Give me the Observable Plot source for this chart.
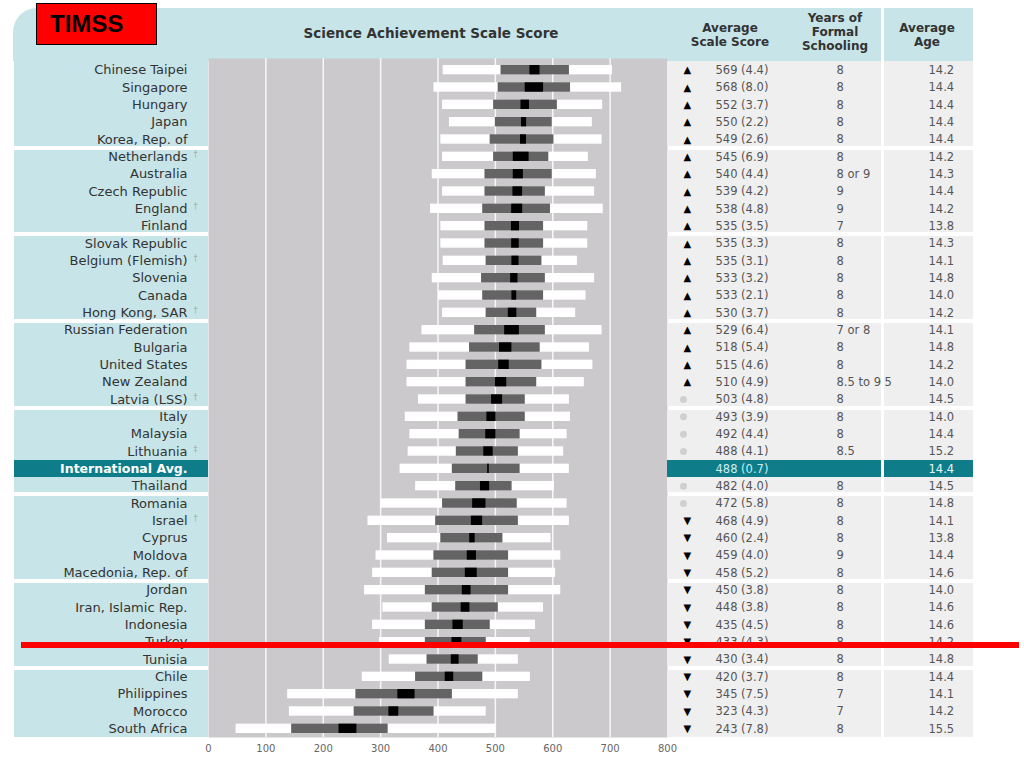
<!DOCTYPE html>
<html><head><meta charset="utf-8">
<script src="https://cdn.jsdelivr.net/npm/d3@7"></script>
<script src="https://cdn.jsdelivr.net/npm/@observablehq/plot@0.6"></script>
<style>
body{margin:0;background:#fff;width:1024px;height:768px;overflow:hidden;font-family:"DejaVu Sans",sans-serif;}
#wrap{position:relative;width:1024px;height:768px;}
.abs{position:absolute;}
.hdr{position:absolute;text-align:center;font-weight:bold;color:#333;font-size:12px;line-height:14px;}
</style></head><body><div id="wrap"></div>
<script>
const countries = ["Chinese Taipei","Singapore","Hungary","Japan","Korea, Rep. of",
 "Netherlands","Australia","Czech Republic","England","Finland",
 "Slovak Republic","Belgium (Flemish)","Slovenia","Canada","Hong Kong, SAR",
 "Russian Federation","Bulgaria","United States","New Zealand","Latvia (LSS)",
 "Italy","Malaysia","Lithuania","International Avg.","Thailand",
 "Romania","Israel","Cyprus","Moldova","Macedonia, Rep. of",
 "Jordan","Iran, Islamic Rep.","Indonesia","Turkey","Tunisia",
 "Chile","Philippines","Morocco","South Africa"];
const footnotes = ["","","","","",
 "†","","","†","",
 "","†","","","†",
 "","","","","†",
 "","","‡","","",
 "","†","","","",
 "","","","","",
 "","","",""];
const means = [569,568,552,550,549, 545,540,539,538,535, 535,535,533,533,530, 529,518,515,510,503, 493,492,488,488,482, 472,468,460,459,458, 450,448,435,433,430, 420,345,323,243];
const ses = [4.4,8.0,3.7,2.2,2.6, 6.9,4.4,4.2,4.8,3.5, 3.3,3.1,3.2,2.1,3.7, 6.4,5.4,4.6,4.9,4.8, 3.9,4.4,4.1,0.7,4.0, 5.8,4.9,2.4,4.0,5.2, 3.8,3.8,4.5,4.3,3.4, 3.7,7.5,4.3,7.8];
const p5  = [409,393,408,420,405, 408,390,408,387,405, 405,409,390,401,408, 372,351,346,346,366, 343,351,348,334,361, 300,278,312,292,286, 272,304,286,298,315, 268,138,141,48];
const p25 = [510,505,497,500,491, 497,482,482,478,482, 482,484,476,478,484, 464,455,449,449,449, 435,437,432,425,431, 408,396,405,393,390, 378,390,378,378,381, 361,257,254,145];
const p75 = [629,631,608,599,602, 593,599,587,596,584, 584,581,587,584,572, 587,578,581,572,552, 552,543,540,543,529, 538,540,513,523,523, 523,505,491,484,470, 478,425,393,313];
const p95 = [704,720,687,669,686, 662,676,673,688,661, 661,643,673,658,640, 686,664,670,655,629, 631,625,619,629,603, 625,629,597,614,605, 614,584,570,561,540, 561,540,484,501];
const status = ["up","up","up","up","up", "up","up","up","up","up", "up","up","up","up","up", "up","up","up","up","same", "same","same","same","","same", "same","down","down","down","down", "down","down","down","down","down", "down","down","down","down"];
const years = ["8","8","8","8","8", "8","8 or 9","9","9","7", "8","8","8","8","8", "7 or 8","8","8","8.5 to 9.5","8", "8","8","8.5","","8", "8","8","8","9","8", "8","8","8","8","8", "8","7","7","8"];
const ages = [14.2,14.4,14.4,14.4,14.4, 14.2,14.3,14.4,14.2,13.8, 14.3,14.1,14.8,14.0,14.2, 14.1,14.8,14.2,14.0,14.5, 14.0,14.4,15.2,14.4,14.5, 14.8,14.1,13.8,14.4,14.6, 14.0,14.6,14.6,14.2,14.8, 14.4,14.1,14.2,15.5];
const groupSizes = [5,5,5,5,5,5,5,4];
const intlName = "International Avg.";

const starts = new Set(), ends = new Set();
let acc = 0;
groupSizes.forEach(s => { starts.add(acc); ends.add(acc + s - 1); acc += s; });
const n = countries.length;
const rows = countries.map((name, i) => ({
  name, foot: footnotes[i], mean: means[i], se: ses[i],
  p5: p5[i], p25: p25[i], p75: p75[i], p95: p95[i],
  status: status[i], years: years[i], age: ages[i],
  intl: name === intlName,
  sepTop: starts.has(i) && i > 0,
  sepBot: ends.has(i) && i < n - 1
}));

const BLUE = "#c7e5e8", TEAL = "#0f7d89", GRAY = "#ccc9cd", TABLE = "#efefef";
const H = 760, MT = 58, MB = 23;
const yScale = {type: "band", domain: countries, padding: 0, round: false, insetTop: 3, axis: null};
const baseStyle = {background: "transparent", overflow: "visible", fontFamily: "DejaVu Sans, sans-serif"};

function bgMarks(fillFn) {
  const o = {x1: 0, x2: 1, y: "name", fill: fillFn, shapeRendering: "crispEdges"};
  return [
    Plot.barX(rows.filter(d => !d.sepTop && !d.sepBot), o),
    Plot.barX(rows.filter(d => d.sepTop), {...o, insetTop: 2}),
    Plot.barX(rows.filter(d => d.sepBot), {...o, insetBottom: 2})
  ];
}

const wrap = document.getElementById("wrap");
function place(el, left, top, z) {
  const d = document.createElement("div");
  d.className = "abs"; d.style.left = left + "px"; d.style.top = top + "px";
  if (z) d.style.zIndex = z;
  d.appendChild(el); wrap.appendChild(d); return d;
}
function box(left, top, w, h, css) {
  const d = document.createElement("div");
  d.className = "abs";
  Object.assign(d.style, {left: left + "px", top: top + "px", width: w + "px", height: h + "px"}, css || {});
  wrap.appendChild(d); return d;
}

// header background
box(13, 8, 960, 53, {background: BLUE, borderTopLeftRadius: "24px"});

// Labels column
const plotA = Plot.plot({
  width: 194, height: H, marginLeft: 0, marginRight: 0, marginTop: MT, marginBottom: MB,
  style: {...baseStyle},
  x: {domain: [0, 1], axis: null},
  y: yScale,
  color: {type: "identity"},
  marks: [
    ...bgMarks(d => d.intl ? TEAL : BLUE),
    Plot.text(rows.filter(d => !d.intl), {y: "name", text: "name", frameAnchor: "right", dx: -21, textAnchor: "end", fill: "#333", fontSize: 13}),
    Plot.text(rows.filter(d => d.intl), {y: "name", text: "name", frameAnchor: "right", dx: -21, textAnchor: "end", fill: "#fff", fontSize: 12.5, fontWeight: "bold"}),
    Plot.text(rows.filter(d => d.foot), {y: "name", text: "foot", frameAnchor: "right", dx: -15, dy: -2, textAnchor: "start", fill: "#aaa", fontSize: 8})
  ]
});
place(plotA, 14, 0);

// Bars
const plotB = Plot.plot({
  width: 459, height: H, marginLeft: 0, marginRight: 0, marginTop: MT, marginBottom: MB,
  style: {...baseStyle, fontSize: "10px", color: "#666"},
  x: {domain: [0, 800], ticks: 8, tickSize: 0, tickPadding: 7, label: null, tickFormat: d => String(d)},
  y: yScale,
  marks: [
    Plot.frame({fill: GRAY, stroke: null}),
    Plot.ruleX(d3.range(100, 800, 100), {stroke: "#fff", strokeWidth: 1.5, strokeOpacity: 0.85}),
    Plot.barX(rows, {y: "name", x1: "p5", x2: "p25", fill: "#fff", insetTop: 4, insetBottom: 4}),
    Plot.barX(rows, {y: "name", x1: "p75", x2: "p95", fill: "#fff", insetTop: 4, insetBottom: 4}),
    Plot.barX(rows, {y: "name", x1: "p25", x2: "p75", fill: "#646464", insetTop: 4, insetBottom: 4}),
    Plot.barX(rows, {y: "name", x1: d => d.mean - 2 * d.se, x2: d => d.mean + 2 * d.se, fill: "#000", insetTop: 4, insetBottom: 4})
  ]
});
place(plotB, 208, 0);

// Table
const tStyle = {fontSize: 11.5, fill: "#555"};
const plotC = Plot.plot({
  width: 306, height: H, marginLeft: 0, marginRight: 0, marginTop: MT, marginBottom: MB,
  style: {...baseStyle},
  x: {domain: [0, 1], axis: null},
  y: yScale,
  color: {type: "identity"},
  marks: [
    ...bgMarks(d => d.intl ? TEAL : TABLE),
    Plot.text(rows.filter(d => d.status === "up"), {y: "name", text: () => "▲", frameAnchor: "left", dx: 16, fontSize: 10, fill: "#000"}),
    Plot.text(rows.filter(d => d.status === "down"), {y: "name", text: () => "▼", frameAnchor: "left", dx: 16, fontSize: 10, fill: "#000"}),
    Plot.dot(rows.filter(d => d.status === "same"), {y: "name", frameAnchor: "left", dx: 16, r: 3.5, fill: "#d0d0d0", stroke: null}),
    Plot.text(rows, {y: "name", text: d => `${d.mean} (${d.se.toFixed(1)})`, frameAnchor: "left", dx: 48, textAnchor: "start", ...tStyle, fill: d => d.intl ? "#c8eef2" : "#555"}),
    Plot.text(rows, {y: "name", text: "years", frameAnchor: "left", dx: 169, ...tStyle}),
    Plot.text(rows, {y: "name", text: d => d.age.toFixed(1), frameAnchor: "left", dx: 261, ...tStyle, fill: d => d.intl ? "#e6f7f8" : "#555"})
  ]
});
place(plotC, 667, 0);

// white divider between years and age columns
box(881, 8, 2.5, 729, {background: "#fff", zIndex: 5});

// header texts
function hdr(html, cx, top, w) {
  const d = document.createElement("div");
  d.className = "hdr"; d.innerHTML = html;
  Object.assign(d.style, {left: (cx - w / 2) + "px", top: top + "px", width: w + "px"});
  wrap.appendChild(d);
}
hdr('<span style="font-size:13.5px">Science Achievement Scale Score</span>', 431, 26, 400);
hdr("Average<br>Scale Score", 730, 20.5, 120);
hdr("Years of<br>Formal<br>Schooling", 835, 11, 100);
hdr("Average<br>Age", 927, 20.5, 90);

// TIMSS badge
const badge = box(36, 3, 119, 40, {background: "#ff0000", border: "1px solid #000", zIndex: 6});
badge.innerHTML = '<div style="position:absolute;left:13px;top:7px;font:bold 24px \'Liberation Sans\',Arial,sans-serif;color:#000;line-height:26px;">TIMSS</div>';

// red annotation line
box(21, 642, 998, 6, {background: "#ff0000", zIndex: 7});
</script>
</body></html>
